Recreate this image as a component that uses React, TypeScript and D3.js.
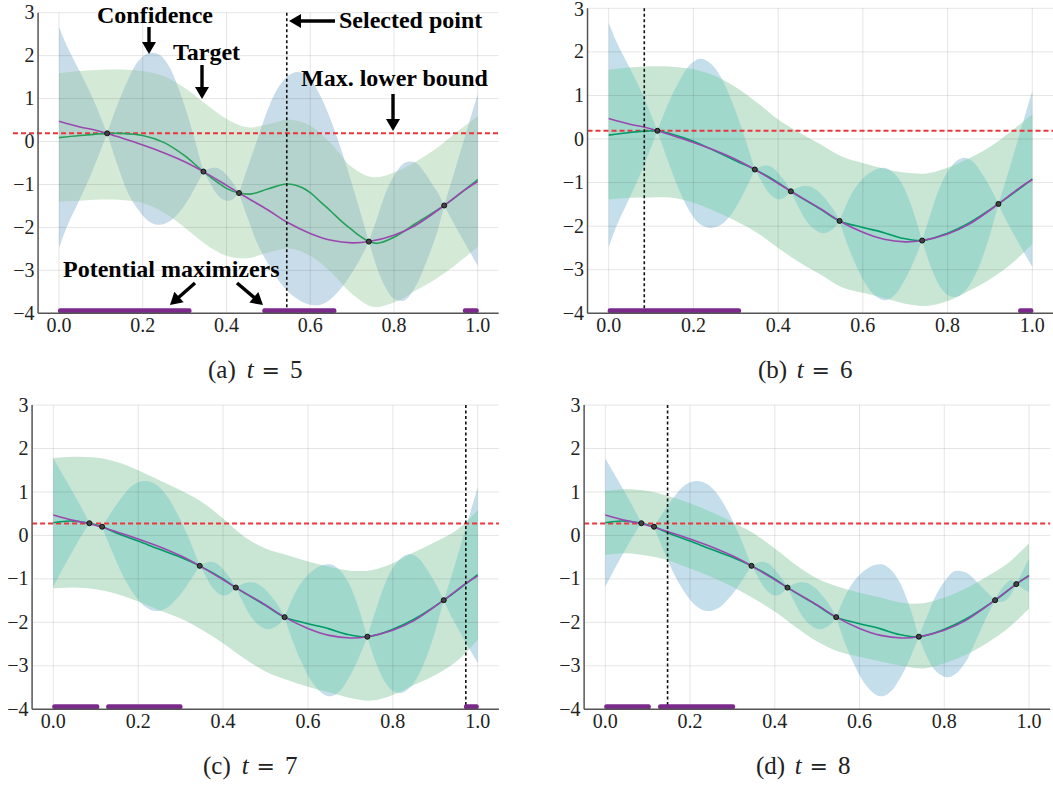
import React from 'react';
import * as d3 from 'd3';

type Pt = [number, number];
type Row = [number, number, number]; // x, lower, upper

const X_TICKS = [0, 0.2, 0.4, 0.6, 0.8, 1.0];
const Y_TICKS = [-4, -3, -2, -1, 0, 1, 2, 3];

// Target function (purple)
const TARGET: Pt[] = [
  [0, 0.47], [0.05, 0.34], [0.085, 0.27], [0.115, 0.19], [0.15, 0.08], [0.2, -0.08],
  [0.25, -0.26], [0.3, -0.47], [0.345, -0.7], [0.4, -1.02], [0.43, -1.2], [0.5, -1.6],
  [0.545, -1.88], [0.6, -2.14], [0.65, -2.3], [0.7, -2.36], [0.74, -2.33], [0.8, -2.18],
  [0.85, -1.96], [0.92, -1.49], [0.97, -1.12], [1.0, -0.93],
];

// Observations
const OBS_A: Pt[] = [[0.115, 0.19], [0.345, -0.7], [0.43, -1.2], [0.74, -2.33], [0.92, -1.49]];
const OBS_B: Pt[] = [[0.115, 0.19], [0.345, -0.7], [0.43, -1.2], [0.545, -1.88], [0.74, -2.33], [0.92, -1.49]];
const OBS_C: Pt[] = [[0.085, 0.28], [0.115, 0.2], [0.345, -0.7], [0.43, -1.2], [0.545, -1.88], [0.74, -2.33], [0.92, -1.49]];
const OBS_D: Pt[] = [[0.085, 0.28], [0.115, 0.2], [0.345, -0.7], [0.43, -1.2], [0.545, -1.88], [0.74, -2.33], [0.92, -1.49], [0.97, -1.12]];

// GP means (green)
const MEAN_A: Pt[] = [
  [0, 0.09], [0.05, 0.14], [0.115, 0.19], [0.15, 0.19], [0.2, 0.14], [0.25, -0.02], [0.3, -0.33],
  [0.345, -0.7], [0.4, -1.09], [0.43, -1.2], [0.46, -1.22], [0.5, -1.1], [0.545, -0.99], [0.58, -1.07],
  [0.6, -1.19], [0.625, -1.41], [0.65, -1.63], [0.675, -1.86], [0.7, -2.06], [0.72, -2.21], [0.74, -2.33],
  [0.76, -2.37], [0.8, -2.23], [0.85, -1.92], [0.92, -1.49], [1.0, -0.89],
];
const MEAN_B: Pt[] = [
  [0, 0.09], [0.05, 0.15], [0.085, 0.18], [0.115, 0.19], [0.15, 0.11], [0.2, -0.05], [0.25, -0.27],
  [0.3, -0.5], [0.345, -0.7], [0.4, -1.0], [0.43, -1.2], [0.5, -1.61], [0.545, -1.88], [0.6, -2.03],
  [0.65, -2.15], [0.69, -2.27], [0.74, -2.33], [0.8, -2.16], [0.85, -1.93], [0.92, -1.49], [1.0, -0.92],
];
const MEAN_C: Pt[] = [
  [0, 0.29], [0.04, 0.33], [0.085, 0.28], [0.115, 0.2], [0.15, 0.05], [0.2, -0.13], [0.25, -0.32],
  [0.3, -0.5], [0.345, -0.7], [0.4, -1.0], [0.43, -1.2], [0.5, -1.61], [0.545, -1.88], [0.6, -2.03],
  [0.65, -2.15], [0.69, -2.27], [0.74, -2.33], [0.8, -2.16], [0.85, -1.93], [0.92, -1.49], [1.0, -0.9],
];
const MEAN_D: Pt[] = [
  [0, 0.29], [0.04, 0.33], [0.085, 0.28], [0.115, 0.2], [0.15, 0.05], [0.2, -0.13], [0.25, -0.32],
  [0.3, -0.5], [0.345, -0.7], [0.4, -1.0], [0.43, -1.2], [0.5, -1.61], [0.545, -1.88], [0.6, -2.03],
  [0.65, -2.15], [0.69, -2.27], [0.74, -2.33], [0.8, -2.16], [0.85, -1.93], [0.92, -1.49], [0.97, -1.12],
  [1.0, -0.92],
];

// Green confidence bands [x, lower, upper]
const GREEN_A: Row[] = [
  [0, -1.4, 1.59], [0.05, -1.38, 1.64], [0.1, -1.35, 1.67], [0.15, -1.36, 1.68], [0.2, -1.43, 1.64],
  [0.25, -1.65, 1.52], [0.3, -2.0, 1.25], [0.35, -2.39, 0.88], [0.4, -2.66, 0.53], [0.45, -2.72, 0.33],
  [0.5, -2.58, 0.4], [0.55, -2.49, 0.51], [0.6, -2.66, 0.37], [0.65, -3.05, -0.05], [0.7, -3.55, -0.6],
  [0.75, -3.85, -0.83], [0.8, -3.75, -0.72], [0.85, -3.48, -0.48], [0.9, -3.2, -0.17], [0.95, -2.85, 0.22],
  [1.0, -2.45, 0.59],
];
const GREEN_B: Row[] = [
  [0, -1.39, 1.59], [0.05, -1.35, 1.64], [0.1, -1.34, 1.67], [0.15, -1.35, 1.66], [0.2, -1.46, 1.6],
  [0.25, -1.65, 1.45], [0.3, -1.88, 1.19], [0.35, -2.15, 0.84], [0.4, -2.5, 0.45], [0.45, -2.83, 0.15],
  [0.5, -3.11, -0.12], [0.55, -3.4, -0.4], [0.6, -3.53, -0.55], [0.65, -3.65, -0.68], [0.7, -3.78, -0.77],
  [0.75, -3.83, -0.79], [0.8, -3.72, -0.66], [0.85, -3.49, -0.45], [0.9, -3.22, -0.18], [0.95, -2.87, 0.18],
  [1.0, -2.41, 0.57],
];
const GREEN_C: Row[] = [
  [0, -1.22, 1.78], [0.05, -1.2, 1.81], [0.1, -1.24, 1.79], [0.15, -1.35, 1.69], [0.2, -1.52, 1.5],
  [0.25, -1.72, 1.27], [0.3, -1.91, 1.04], [0.35, -2.17, 0.77], [0.4, -2.48, 0.39], [0.45, -2.83, -0.03],
  [0.5, -3.13, -0.3], [0.55, -3.32, -0.45], [0.6, -3.48, -0.6], [0.65, -3.61, -0.72], [0.7, -3.74, -0.81],
  [0.75, -3.8, -0.8], [0.8, -3.67, -0.64], [0.85, -3.44, -0.39], [0.9, -3.21, -0.15], [0.95, -2.9, 0.12],
  [1.0, -2.4, 0.58],
];
const GREEN_D: Row[] = [
  [0, -0.45, 1.02], [0.05, -0.41, 1.06], [0.1, -0.47, 1.02], [0.15, -0.58, 0.9], [0.2, -0.76, 0.74],
  [0.25, -0.95, 0.54], [0.3, -1.18, 0.31], [0.35, -1.45, 0.05], [0.4, -1.75, -0.3], [0.45, -2.11, -0.68],
  [0.5, -2.44, -0.99], [0.55, -2.67, -1.18], [0.6, -2.79, -1.32], [0.65, -2.9, -1.43], [0.7, -3.0, -1.55],
  [0.75, -3.06, -1.56], [0.8, -2.94, -1.43], [0.85, -2.75, -1.22], [0.9, -2.48, -0.95], [0.95, -2.14, -0.64],
  [1.0, -1.68, -0.18],
];

// Blue confidence band pieces (between observations) [x, lower, upper]
const BLUE_L_AB: Row[] = [[0, -2.48, 2.67], [0.02, -1.96, 2.2], [0.045, -1.44, 1.72], [0.08, -0.68, 1.02], [0.115, 0.19, 0.19]];
const BLUE_S1_A: Row[] = [
  [0.115, 0.19, 0.19], [0.14, -0.55, 0.86], [0.165, -1.2, 1.44], [0.19, -1.6, 1.88], [0.215, -1.86, 2.06],
  [0.24, -1.94, 2.02], [0.265, -1.85, 1.71], [0.29, -1.61, 1.11], [0.315, -1.25, 0.35], [0.345, -0.7, -0.7],
];
const BLUE_S1_B: Row[] = [
  [0.115, 0.19, 0.19], [0.14, -0.5, 0.8], [0.165, -1.14, 1.3], [0.19, -1.64, 1.68], [0.215, -1.95, 1.84],
  [0.24, -2.04, 1.74], [0.265, -1.97, 1.42], [0.29, -1.72, 0.88], [0.315, -1.31, 0.22], [0.345, -0.7, -0.7],
];
const BLUE_S2: Row[] = [
  [0.345, -0.7, -0.7], [0.36, -0.95, -0.63], [0.375, -1.2, -0.61], [0.39, -1.34, -0.68], [0.405, -1.38, -0.84],
  [0.418, -1.32, -1.0], [0.43, -1.2, -1.2],
];
const BLUE_S3_A: Row[] = [
  [0.43, -1.2, -1.2], [0.45, -1.76, -0.62], [0.475, -2.4, 0.08], [0.5, -2.86, 0.78], [0.525, -3.24, 1.28],
  [0.55, -3.52, 1.55], [0.575, -3.7, 1.62], [0.6, -3.8, 1.45], [0.625, -3.8, 1.05], [0.65, -3.66, 0.48],
  [0.675, -3.4, -0.22], [0.7, -3.05, -1.0], [0.72, -2.72, -1.66], [0.74, -2.33, -2.33],
];
const BLUE_S4_A: Row[] = [
  [0.74, -2.33, -2.33], [0.76, -2.95, -1.78], [0.78, -3.4, -1.2], [0.8, -3.66, -0.8], [0.825, -3.7, -0.5],
  [0.85, -3.4, -0.48], [0.87, -2.98, -0.68], [0.89, -2.48, -0.98], [0.905, -2.05, -1.2], [0.92, -1.49, -1.49],
];
const BLUE_R_A: Row[] = [[0.92, -1.49, -1.49], [0.94, -1.85, -0.85], [0.96, -2.2, -0.2], [0.98, -2.55, 0.45], [1.0, -2.89, 1.1]];
const BLUE_S3_BCD: Row[] = [
  [0.43, -1.2, -1.2], [0.445, -1.5, -1.12], [0.46, -1.78, -1.08], [0.475, -1.98, -1.09], [0.49, -2.1, -1.17],
  [0.505, -2.16, -1.3], [0.52, -2.12, -1.48], [0.533, -2.03, -1.66], [0.545, -1.88, -1.88],
];
const BLUE_S4_BCD: Row[] = [
  [0.545, -1.88, -1.88], [0.565, -2.45, -1.42], [0.585, -2.92, -1.08], [0.61, -3.38, -0.82], [0.635, -3.64, -0.68],
  [0.655, -3.7, -0.67], [0.675, -3.58, -0.8], [0.695, -3.3, -1.08], [0.715, -2.92, -1.55], [0.74, -2.33, -2.33],
];
const BLUE_S5_BC: Row[] = [
  [0.74, -2.33, -2.33], [0.76, -2.92, -1.72], [0.78, -3.35, -1.15], [0.8, -3.58, -0.75], [0.822, -3.62, -0.5],
  [0.84, -3.5, -0.43], [0.86, -3.22, -0.52], [0.88, -2.78, -0.78], [0.9, -2.2, -1.1], [0.92, -1.49, -1.49],
];
const BLUE_R_BC: Row[] = [[0.92, -1.49, -1.49], [0.94, -1.9, -0.88], [0.96, -2.25, -0.22], [0.98, -2.6, 0.44], [1.0, -2.93, 1.1]];
const BLUE_L_CD: Row[] = [[0, -1.18, 1.77], [0.03, -0.63, 1.27], [0.06, -0.11, 0.75], [0.085, 0.28, 0.28]];
const BLUE_S0_CD: Row[] = [[0.085, 0.28, 0.28], [0.1, 0.21, 0.27], [0.115, 0.2, 0.2]];
const BLUE_S1_CD: Row[] = [
  [0.115, 0.2, 0.2], [0.14, -0.4, 0.58], [0.165, -0.94, 0.92], [0.19, -1.35, 1.17], [0.215, -1.63, 1.25],
  [0.24, -1.74, 1.18], [0.265, -1.68, 0.94], [0.29, -1.46, 0.54], [0.315, -1.15, 0.03], [0.345, -0.7, -0.7],
];
const BLUE_S5_D: Row[] = [
  [0.74, -2.33, -2.33], [0.76, -2.8, -1.85], [0.78, -3.12, -1.38], [0.805, -3.26, -1.0], [0.825, -3.2, -0.82],
  [0.85, -2.92, -0.85], [0.87, -2.52, -1.0], [0.895, -1.98, -1.25], [0.92, -1.49, -1.49],
];
const BLUE_S6_D: Row[] = [[0.92, -1.49, -1.49], [0.932, -1.53, -1.27], [0.945, -1.5, -1.12], [0.958, -1.35, -1.02], [0.97, -1.12, -1.12]];
const BLUE_R_D: Row[] = [[0.97, -1.12, -1.12], [0.985, -1.22, -0.83], [1.0, -1.3, -0.53]];

const BLUE_A: Row[][] = [BLUE_L_AB, BLUE_S1_A, BLUE_S2, BLUE_S3_A, BLUE_S4_A, BLUE_R_A];
const BLUE_B: Row[][] = [BLUE_L_AB, BLUE_S1_B, BLUE_S2, BLUE_S3_BCD, BLUE_S4_BCD, BLUE_S5_BC, BLUE_R_BC];
const BLUE_C: Row[][] = [BLUE_L_CD, BLUE_S0_CD, BLUE_S1_CD, BLUE_S2, BLUE_S3_BCD, BLUE_S4_BCD, BLUE_S5_BC, BLUE_R_BC];
const BLUE_D: Row[][] = [BLUE_L_CD, BLUE_S0_CD, BLUE_S1_CD, BLUE_S2, BLUE_S3_BCD, BLUE_S4_BCD, BLUE_S5_D, BLUE_S6_D, BLUE_R_D];

// Potential maximizer intervals
const BARS_A: Pt[] = [[0, 0.314], [0.488, 0.66], [0.967, 1.0]];
const BARS_B: Pt[] = [[0, 0.31], [0.969, 1.0]];
const BARS_C: Pt[] = [[0, 0.106], [0.127, 0.302], [0.97, 1.0]];
const BARS_D: Pt[] = [[0, 0.105], [0.127, 0.304]];

const SELECTED = [0.544, 0.084, 0.972, 0.147];
const LOWER_BOUND = [0.19, 0.19, 0.275, 0.275];
const LABELS = ['a', 'b', 'c', 'd'];
const T_VALUES = [5, 6, 7, 8];

interface Layout {
  x0: number; x1: number; yTop: number; yBot: number; redStart?: number;
  capX: number; capY: number;
  green: string; blue: string; overlap: string; meanColor: string;
}

const LAYOUTS: Layout[] = [
  { x0: 59, x1: 477.7, yTop: 12.7, yBot: 313.3, redStart: 13, capX: 208, capY: 378,
    green: '#d5ead6', blue: '#c9dcea', overlap: '#b4d3cc', meanColor: '#25a05a' },
  { x0: 608.7, x1: 1032.3, yTop: 8.3, yBot: 313.3, capX: 758, capY: 378,
    green: '#c8e6d3', blue: '#c4deeb', overlap: '#a1d8cc', meanColor: '#009a66' },
  { x0: 53.3, x1: 477.7, yTop: 405, yBot: 709.3, capX: 203, capY: 774,
    green: '#c8e6d3', blue: '#c4deeb', overlap: '#a1d8cc', meanColor: '#009a66' },
  { x0: 605.3, x1: 1029, yTop: 405, yBot: 709.3, capX: 756, capY: 774,
    green: '#c8e6d3', blue: '#c4deeb', overlap: '#a1d8cc', meanColor: '#009a66' },
];

const DATA = [
  { mean: MEAN_A, green: GREEN_A, blue: BLUE_A, obs: OBS_A, bars: BARS_A },
  { mean: MEAN_B, green: GREEN_B, blue: BLUE_B, obs: OBS_B, bars: BARS_B },
  { mean: MEAN_C, green: GREEN_C, blue: BLUE_C, obs: OBS_C, bars: BARS_C },
  { mean: MEAN_D, green: GREEN_D, blue: BLUE_D, obs: OBS_D, bars: BARS_D },
];

const SERIF_STYLE = { fontFamily: '"Liberation Serif"' };
const DEJAVU_STYLE = { fontFamily: '"DejaVu Serif"' };
const PURPLE = '#9b47b0';
const BAR_COLOR = '#7b2a8c';

function Arrow({ x1, y1, x2, y2 }: { x1: number; y1: number; x2: number; y2: number }) {
  const dx = x2 - x1, dy = y2 - y1;
  const len = Math.hypot(dx, dy);
  const ux = dx / len, uy = dy / len;
  const hl = 12, hw = 7;
  const bx = x2 - ux * hl, by = y2 - uy * hl;
  const px = -uy, py = ux;
  const pts = `${x2},${y2} ${bx + px * hw},${by + py * hw} ${bx - px * hw},${by - py * hw}`;
  return (
    <g>
      <line x1={x1} y1={y1} x2={bx + ux * 1} y2={by + uy * 1} stroke="#000" strokeWidth={3.4} />
      <polygon points={pts} fill="#000" />
    </g>
  );
}

function Panel({ idx }: { idx: number }) {
  const L = LAYOUTS[idx];
  const D = DATA[idx];
  const x = d3.scaleLinear().domain([0, 1]).range([L.x0, L.x1]);
  const y = d3.scaleLinear().domain([-4, 3]).range([L.yBot, L.yTop]);
  const left = x(-0.05);
  const right = x(1.05);
  const curve = d3.curveCatmullRom.alpha(0.5);
  const band = d3.area<Row>().x(d => x(d[0])).y0(d => y(d[1])).y1(d => y(d[2])).curve(curve);
  const line = d3.line<Pt>().x(d => x(d[0])).y(d => y(d[1])).curve(curve);
  const greenPath = band(D.green) || '';
  const clipId = `greenclip-${idx}`;
  const fx = d3.format('.1f');
  const fy = d3.format('d');
  const grid = 'rgba(0,0,0,0.10)';

  return (
    <g>
      <defs>
        <clipPath id={clipId}><path d={greenPath} /></clipPath>
      </defs>
      <path d={greenPath} fill={L.green} />
      {D.blue.map((seg, i) => <path key={'b' + i} d={band(seg) || ''} fill={L.blue} />)}
      <g clipPath={`url(#${clipId})`}>
        {D.blue.map((seg, i) => <path key={'o' + i} d={band(seg) || ''} fill={L.overlap} />)}
      </g>
      {X_TICKS.map(t => (
        <line key={'gx' + t} x1={x(t)} x2={x(t)} y1={y(3)} y2={y(-4)} stroke={grid} strokeWidth={1} />
      ))}
      {Y_TICKS.map(t => (
        <line key={'gy' + t} x1={left} x2={right} y1={y(t)} y2={y(t)} stroke={grid} strokeWidth={1} />
      ))}
      <line x1={L.redStart ?? left} x2={right} y1={y(LOWER_BOUND[idx])} y2={y(LOWER_BOUND[idx])}
        stroke="#e8363c" strokeWidth={2} strokeDasharray="5,3" />
      <path d={line(D.mean) || ''} fill="none" stroke={L.meanColor} strokeWidth={1.6} />
      <path d={line(TARGET) || ''} fill="none" stroke={PURPLE} strokeWidth={1.6} />
      <line x1={x(SELECTED[idx])} x2={x(SELECTED[idx])} y1={y(3)} y2={y(-4)}
        stroke="#111" strokeWidth={1.6} strokeDasharray="3,2.5" />
      {D.obs.map((p, i) => (
        <circle key={'o' + i} cx={x(p[0])} cy={y(p[1])} r={2.5} fill="#444" stroke="#111" strokeWidth={1} />
      ))}
      {D.bars.map((b, i) => (
        <rect key={'bar' + i} x={x(b[0]) - 1} y={y(-4) - 5} width={x(b[1]) - x(b[0]) + 2} height={5}
          rx={2} fill={BAR_COLOR} />
      ))}
      <line x1={left} x2={left} y1={y(3)} y2={y(-4)} stroke="#555" strokeWidth={1.5} />
      <line x1={left} x2={right} y1={y(-4)} y2={y(-4)} stroke="#555" strokeWidth={1.5} />
      {X_TICKS.map(t => (
        <text key={'tx' + t} x={x(t)} y={y(-4) + 19} textAnchor="middle" style={SERIF_STYLE} fontSize={20} fill="#222">
          {fx(t)}
        </text>
      ))}
      {Y_TICKS.map(t => (
        <text key={'ty' + t} x={left - 3.5} y={Math.max(y(t), 9.5)} dy="0.33em" textAnchor="end" style={SERIF_STYLE} fontSize={20} fill="#222">
          {fy(t)}
        </text>
      ))}
      <text y={L.capY} style={SERIF_STYLE} fontSize={25} fill="#222">
        <tspan x={L.capX}>({LABELS[idx]})</tspan>
        <tspan x={L.capX + 38.7} fontStyle="italic">t</tspan>
        <tspan x={L.capX + 53.5} style={DEJAVU_STYLE} fontSize={22}>=</tspan>
        <tspan x={L.capX + 82}>{T_VALUES[idx]}</tspan>
      </text>
    </g>
  );
}

function Annotations() {
  const st = { style: SERIF_STYLE, fontWeight: 700, fontSize: 24, fill: '#000' } as const;
  return (
    <g>
      <text x={97} y={23} {...st}>Confidence</text>
      <Arrow x1={149} y1={27} x2={149} y2={54} />
      <text x={173} y={59.5} {...st}>Target</text>
      <Arrow x1={202} y1={65} x2={202} y2={99} />
      <text x={339} y={28} {...st}>Selected point</text>
      <Arrow x1={335} y1={21} x2={289} y2={21} />
      <text x={301} y={86} {...st}>Max. lower bound</text>
      <Arrow x1={393} y1={94} x2={393} y2={131} />
      <text x={63} y={277} {...st}>Potential maximizers</text>
      <Arrow x1={195} y1={283} x2={170} y2={305} />
      <Arrow x1={237} y1={283} x2={263} y2={305} />
    </g>
  );
}

export default function App() {
  return (
    <svg width={1053} height={785} viewBox="0 0 1053 785"
      style={{ position: 'absolute', left: 0, top: 0, display: 'block', background: '#fff' }}>
      <rect x={0} y={0} width={1053} height={785} fill="#fff" />
      {[0, 1, 2, 3].map(i => <Panel key={i} idx={i} />)}
      <Annotations />
    </svg>
  );
}
